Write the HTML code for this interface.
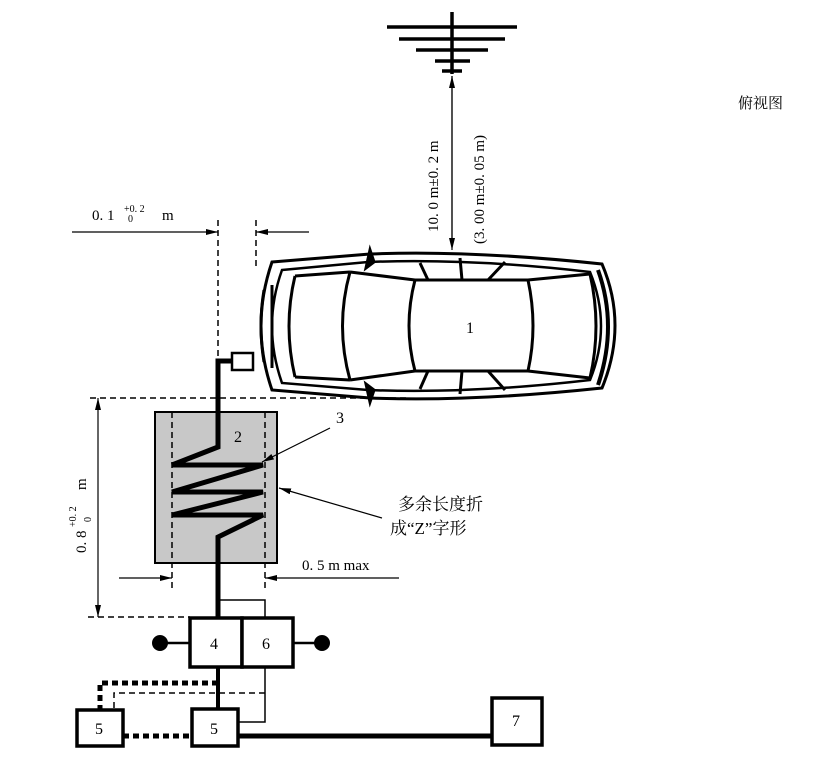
<!DOCTYPE html>
<html><head><meta charset="utf-8"><style>
html,body{margin:0;padding:0;background:#fff;}
svg{display:block;}
text{font-family:"Liberation Serif","Noto Serif CJK SC",serif;fill:#000;}
.c{font-family:"Liberation Serif","Noto Serif CJK SC","Noto Sans CJK SC",serif;}
</style></head><body>
<svg width="835" height="763" viewBox="0 0 835 763" xmlns="http://www.w3.org/2000/svg">
<defs>
<marker id="a" markerWidth="12" markerHeight="8" refX="12" refY="4" orient="auto" markerUnits="userSpaceOnUse"><path d="M0,1 L12,4 L0,7 Z" fill="#000"/></marker>
</defs>
<!-- antenna -->
<g stroke="#000" stroke-width="3.5">
<line x1="452" y1="12" x2="452" y2="74"/>
<line x1="387" y1="27" x2="517" y2="27"/>
<line x1="399" y1="39" x2="505" y2="39"/>
<line x1="416" y1="50" x2="488" y2="50"/>
<line x1="435" y1="61" x2="470" y2="61"/>
<line x1="442" y1="71" x2="462" y2="71"/>
</g>
<line x1="452" y1="245" x2="452" y2="76" stroke="#000" stroke-width="1.2" marker-end="url(#a)"/>
<line x1="452" y1="76" x2="452" y2="250" stroke="#000" stroke-width="1.2" marker-end="url(#a)"/>
<text transform="translate(438,232) rotate(-90)" font-size="15">10. 0  m±0. 2  m</text>
<text transform="translate(484,244) rotate(-90)" font-size="15">(3. 00  m±0. 05  m)</text>
<text x="738" y="108" font-size="15" class="c">俯视图</text>

<!-- car -->
<g fill="none" stroke="#000" stroke-width="3">
<path d="M272,262 L370,254 Q470,250 602,264 Q628,325 602,388 Q470,402 370,398 L272,390 Q250,326 272,262 Z"/>
<path d="M282,270 L368,262 Q470,258 590,272 Q612,326 590,380 Q470,394 368,390 L282,383 Q262,326 282,270 Z" stroke-width="2.5"/>
<path d="M415,280 L528,280 Q538,326 528,371 L415,371 Q403,326 415,280 Z"/>
<path d="M350,272 L415,280 M350,380 L415,371"/>
<path d="M350,272 Q335,326 350,380"/>
<path d="M295,276 L350,272 M295,377 L350,380"/>
<path d="M295,276 Q283,326 295,377"/>
<path d="M528,280 L590,274 M528,371 L590,378"/>
<path d="M590,274 Q602,326 590,378"/>
<path d="M598,270 Q618,326 598,385" stroke-width="4"/>
<path d="M420,263 L428,280 M460,258 L462,280 M505,262 L488,280 M420,389 L428,371 M460,394 L462,371 M505,390 L488,371"/>
<path d="M370,250 L366,268 L374,262 Z M370,402 L366,384 L374,390 Z" fill="#000"/>
<path d="M264,290 Q258,326 264,362 M272,285 L272,368"/>
</g>
<text x="466" y="333" font-size="16">1</text>

<!-- 0.1 dim -->
<text x="92" y="220" font-size="15">0. 1</text>
<text x="124" y="212" font-size="10">+0. 2</text>
<text x="128" y="222" font-size="10">0</text>
<text x="162" y="220" font-size="15">m</text>
<line x1="72" y1="232" x2="218" y2="232" stroke="#000" stroke-width="1.2" marker-end="url(#a)"/>
<line x1="309" y1="232" x2="256" y2="232" stroke="#000" stroke-width="1.2" marker-end="url(#a)"/>
<g stroke="#000" stroke-width="1.5" stroke-dasharray="6,4" fill="none">
<line x1="218" y1="220" x2="218" y2="358"/>
<line x1="256" y1="220" x2="256" y2="268"/>
<line x1="90" y1="398" x2="410" y2="398"/>
<line x1="88" y1="617" x2="190" y2="617"/>
</g>

<!-- connector & cable -->
<rect x="232" y="353" width="21" height="17" fill="#fff" stroke="#000" stroke-width="2.5"/>
<rect x="155" y="412" width="122" height="151" fill="#c8c8c8" stroke="#000" stroke-width="2"/>
<g stroke="#000" stroke-width="1.5" stroke-dasharray="6,4">
<line x1="172" y1="412" x2="172" y2="588"/>
<line x1="265" y1="412" x2="265" y2="588"/>
</g>
<polyline points="232,361 218,361 218,447 172,465 263,465 172,492 263,492 172,515 263,515 218,537 218,618" fill="none" stroke="#000" stroke-width="5" stroke-linejoin="miter"/>
<text x="234" y="442" font-size="16">2</text>
<text x="336" y="423" font-size="16">3</text>
<line x1="330" y1="428" x2="262" y2="462" stroke="#000" stroke-width="1.2" marker-end="url(#a)"/>
<line x1="382" y1="518" x2="279" y2="488" stroke="#000" stroke-width="1.2" marker-end="url(#a)"/>
<text x="398" y="510" font-size="17" class="c">多余长度折</text>
<text x="390" y="534" font-size="17" class="c">成“Z”字形</text>

<!-- 0.8 dim -->
<line x1="98" y1="500" x2="98" y2="398" stroke="#000" stroke-width="1.2" marker-end="url(#a)"/>
<line x1="98" y1="500" x2="98" y2="617" stroke="#000" stroke-width="1.2" marker-end="url(#a)"/>
<text transform="translate(86,553) rotate(-90)" font-size="15">0. 8</text>
<text transform="translate(76,527) rotate(-90)" font-size="10">+0. 2</text>
<text transform="translate(91,522) rotate(-90)" font-size="10">0</text>
<text transform="translate(86,490) rotate(-90)" font-size="15">m</text>

<!-- 0.5 dim -->
<text x="302" y="570" font-size="15">0. 5  m max</text>
<line x1="119" y1="578" x2="172" y2="578" stroke="#000" stroke-width="1.2" marker-end="url(#a)"/>
<line x1="399" y1="578" x2="265" y2="578" stroke="#000" stroke-width="1.2" marker-end="url(#a)"/>

<!-- bottom -->
<polyline points="218,600 265,600 265,618" fill="none" stroke="#000" stroke-width="1.5"/>
<rect x="190" y="618" width="52" height="49" fill="#fff" stroke="#000" stroke-width="3.5"/>
<rect x="242" y="618" width="51" height="49" fill="#fff" stroke="#000" stroke-width="3.5"/>
<text x="210" y="649" font-size="16">4</text>
<text x="262" y="649" font-size="16">6</text>
<line x1="160" y1="643" x2="190" y2="643" stroke="#000" stroke-width="2.5"/>
<line x1="293" y1="643" x2="322" y2="643" stroke="#000" stroke-width="2.5"/>
<circle cx="160" cy="643" r="8" fill="#000"/>
<circle cx="322" cy="643" r="8" fill="#000"/>
<line x1="218" y1="667" x2="218" y2="709" stroke="#000" stroke-width="4"/>
<polyline points="265,667 265,722 238,722" fill="none" stroke="#000" stroke-width="1.5"/>
<polyline points="218,683 100,683 100,710" fill="none" stroke="#000" stroke-width="5" stroke-dasharray="6,4"/>
<polyline points="265,693 114,693 114,710" fill="none" stroke="#000" stroke-width="1.5" stroke-dasharray="6,4"/>
<line x1="123" y1="736" x2="192" y2="736" stroke="#000" stroke-width="5" stroke-dasharray="6,4"/>
<line x1="238" y1="736" x2="492" y2="736" stroke="#000" stroke-width="5"/>
<rect x="77" y="710" width="46" height="36" fill="#fff" stroke="#000" stroke-width="3.5"/>
<rect x="192" y="709" width="46" height="37" fill="#fff" stroke="#000" stroke-width="3.5"/>
<rect x="492" y="698" width="50" height="47" fill="#fff" stroke="#000" stroke-width="3.5"/>
<text x="95" y="734" font-size="16">5</text>
<text x="210" y="734" font-size="16">5</text>
<text x="512" y="726" font-size="16">7</text>
</svg>
</body></html>
